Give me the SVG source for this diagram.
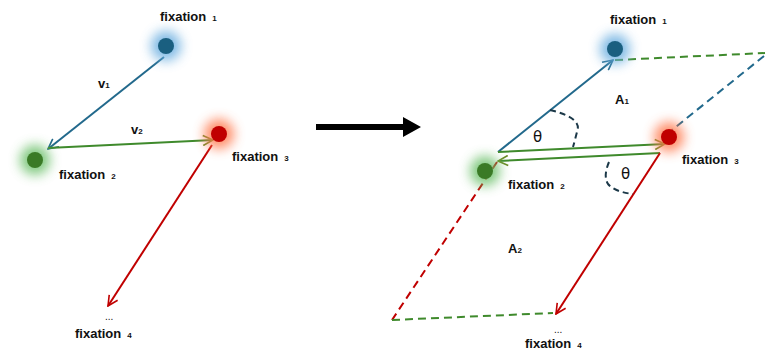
<svg xmlns="http://www.w3.org/2000/svg" width="768" height="353" viewBox="0 0 768 353">
<defs>
<filter id="glow" x="-100%" y="-100%" width="300%" height="300%"><feGaussianBlur stdDeviation="6"/></filter>
<marker id="ab" viewBox="0 0 12 12" refX="11" refY="6" markerWidth="12" markerHeight="12" markerUnits="userSpaceOnUse" orient="auto"><path d="M1,1 L11,6 L1,11" fill="none" stroke="#22698c" stroke-width="1.6"/></marker>
<marker id="ag" viewBox="0 0 12 12" refX="11" refY="6" markerWidth="12" markerHeight="12" markerUnits="userSpaceOnUse" orient="auto"><path d="M1,1 L11,6 L1,11" fill="none" stroke="#6a8a25" stroke-width="1.6"/></marker>
<marker id="ar" viewBox="0 0 12 12" refX="11" refY="6" markerWidth="12" markerHeight="12" markerUnits="userSpaceOnUse" orient="auto"><path d="M1,1 L11,6 L1,11" fill="none" stroke="#c00000" stroke-width="1.6"/></marker>
<style>
.lbl{font-family:"Liberation Sans",Arial,sans-serif;font-weight:bold;font-size:13px;fill:#111}
.sub{font-size:8px}
.th{font-family:"DejaVu Sans",sans-serif;font-size:15px;fill:#111}
.blue{stroke:#22698c;stroke-width:2;fill:none}
.green{stroke:#3f8a2c;stroke-width:2;fill:none}
.red{stroke:#c00000;stroke-width:2;fill:none}
.dash{stroke-dasharray:8,5}
.arc{stroke:#1b3848;stroke-width:2;fill:none;stroke-dasharray:6,4}
.gb{fill:#6aaee0;opacity:0.85}
.gg{fill:#6cc06a;opacity:0.85}
.gr{fill:#ff7a50;opacity:0.85}
</style>
</defs>

<g id="connectors">
<line class="blue" x1="164" y1="57" x2="48" y2="149" marker-end="url(#ab)"/>
<line class="green" x1="48" y1="148" x2="213" y2="140" marker-end="url(#ag)"/>
<line class="red" x1="212" y1="145" x2="108" y2="306" marker-end="url(#ar)"/>
<path d="M316,124 L403,124 L403,117 L421,127 L403,137 L403,130 L316,130 Z" fill="#000"/>
<line class="blue" x1="498" y1="152" x2="613" y2="60" marker-end="url(#ab)"/>
<line class="green" x1="498" y1="152" x2="665" y2="144" marker-end="url(#ag)"/>
<line class="green" x1="660" y1="153" x2="498" y2="161" marker-end="url(#ag)"/>
<line class="red" x1="660" y1="153" x2="556" y2="314" marker-end="url(#ar)"/>
<line class="green dash" x1="615" y1="60" x2="765" y2="53"/>
<line class="blue dash" x1="764" y1="56" x2="672" y2="130"/>
<line class="red dash" x1="497" y1="162" x2="392" y2="320"/>
<line class="green dash" x1="392" y1="320" x2="553" y2="313"/>
<path class="arc" d="M550,110 Q583,118 577,132 Q575,140 573,147"/>
<path class="arc" d="M609,162 Q603,176 608,184 Q615,192 633,194"/>
</g>

<g id="fixation1-left">
<circle cx="166" cy="46" r="15" class="gb" filter="url(#glow)"/>
<circle cx="166" cy="46" r="8" fill="#1a5f80"/>
<text class="lbl" x="160" y="21">fixation<tspan class="sub" dx="6">1</tspan></text>
</g>
<g id="fixation2-left">
<circle cx="35" cy="160" r="15" class="gg" filter="url(#glow)"/>
<circle cx="35" cy="160" r="8" fill="#3a7a26"/>
<text class="lbl" x="59" y="179">fixation<tspan class="sub" dx="6">2</tspan></text>
</g>
<g id="fixation3-left">
<circle cx="219" cy="134" r="15" class="gr" filter="url(#glow)"/>
<circle cx="219" cy="134" r="8" fill="#c00000"/>
<text class="lbl" x="232" y="161">fixation<tspan class="sub" dx="6">3</tspan></text>
</g>
<g id="fixation4-left">
<text class="lbl" x="105" y="320" style="font-weight:normal;font-size:10px">...</text>
<text class="lbl" x="75" y="338">fixation<tspan class="sub" dx="6">4</tspan></text>
</g>
<g id="v-labels">
<text class="lbl" x="98" y="88">v<tspan class="sub">1</tspan></text>
<text class="lbl" x="131" y="134">v<tspan class="sub">2</tspan></text>
</g>

<g id="fixation1-right">
<circle cx="615" cy="49" r="15" class="gb" filter="url(#glow)"/>
<circle cx="615" cy="49" r="8" fill="#1a5f80"/>
<text class="lbl" x="610" y="24">fixation<tspan class="sub" dx="6">1</tspan></text>
</g>
<g id="fixation2-right">
<circle cx="485" cy="171" r="15" class="gg" filter="url(#glow)"/>
<circle cx="485" cy="171" r="8" fill="#3a7a26"/>
<text class="lbl" x="508" y="189">fixation<tspan class="sub" dx="6">2</tspan></text>
</g>
<g id="fixation3-right">
<circle cx="669" cy="137" r="15" class="gr" filter="url(#glow)"/>
<circle cx="669" cy="137" r="8" fill="#c00000"/>
<text class="lbl" x="682" y="164">fixation<tspan class="sub" dx="6">3</tspan></text>
</g>
<g id="fixation4-right">
<text class="lbl" x="554" y="333" style="font-weight:normal;font-size:10px">...</text>
<text class="lbl" x="525" y="348">fixation<tspan class="sub" dx="6">4</tspan></text>
</g>
<g id="area-labels">
<text class="lbl" x="615" y="104">A<tspan class="sub">1</tspan></text>
<text class="lbl" x="508" y="253">A<tspan class="sub">2</tspan></text>
<text class="th" x="533" y="142">θ</text>
<text class="th" x="621" y="179">θ</text>
</g>
</svg>
